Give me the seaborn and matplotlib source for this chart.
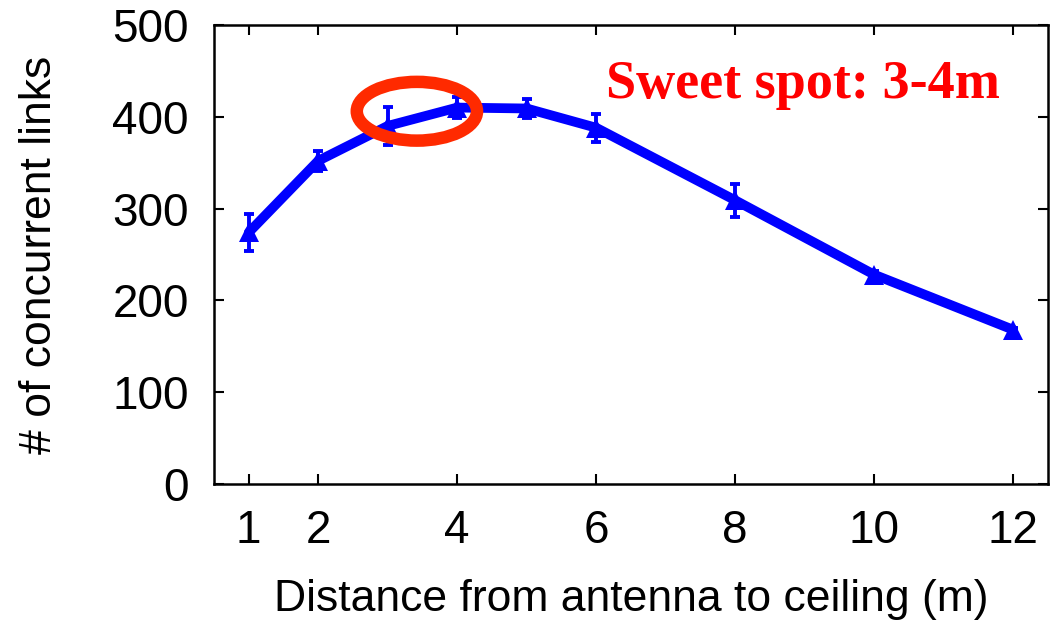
import matplotlib
matplotlib.use("Agg")
import matplotlib.pyplot as plt
import seaborn as sns
import pandas as pd
from matplotlib.patches import Ellipse

distance = [1, 2, 3, 4, 5, 6, 8, 10, 12]
links = [274, 352, 390, 410, 409, 388, 309, 228, 168]
err = [20, 11, 21, 11, 10, 15, 18, 4, 2]
xticks = [1, 2, 4, 6, 8, 10, 12]
yticks = [0, 100, 200, 300, 400, 500]
annotation = "Sweet spot: 3-4m"

sns.set_theme(style="ticks")
plt.rcParams['font.family'] = ['Liberation Sans', 'DejaVu Sans']

df = pd.DataFrame({"d": distance, "n": links})

fig = plt.figure(figsize=(10.5, 6.22), dpi=100)
ax = fig.add_axes([0.2038, 0.2219, 0.7942, 0.738])

ax.errorbar(distance, links, yerr=err, fmt="none", ecolor="#0000ff",
            elinewidth=2.8, capsize=3.5, capthick=2.8, zorder=3)
sns.lineplot(data=df, x="d", y="n", ax=ax, color="#0000ff", linewidth=7,
             marker="^", markersize=14, markeredgewidth=0, zorder=4)

ax.add_patch(Ellipse((3.42, 406), width=1.73, height=64, fill=False,
                     edgecolor="#ff2a00", linewidth=9, zorder=5))

ax.text(0.942, 0.841, annotation, transform=ax.transAxes, ha="right", va="baseline",
        fontsize=39, fontweight="bold", color="#ff0000",
        family=["Liberation Serif", "DejaVu Serif"])

ax.set_xlim(0.5, 12.5)
ax.set_ylim(0, 500)
ax.set_xticks(xticks)
ax.set_yticks(yticks)
ax.set_xlabel("Distance from antenna to ceiling (m)", fontsize=32, labelpad=19, color="black")
ax.set_ylabel("# of concurrent links", fontsize=32, labelpad=38, color="black")
ax.tick_params(direction="in", length=7, width=1.5, labelsize=33, colors="black",
               top=True, right=True)
ax.tick_params(axis="x", pad=18)
ax.tick_params(axis="y", pad=18)
for s in ax.spines.values():
    s.set_linewidth(1.8)
    s.set_color("black")

fig.savefig("out.png", dpi=100)
